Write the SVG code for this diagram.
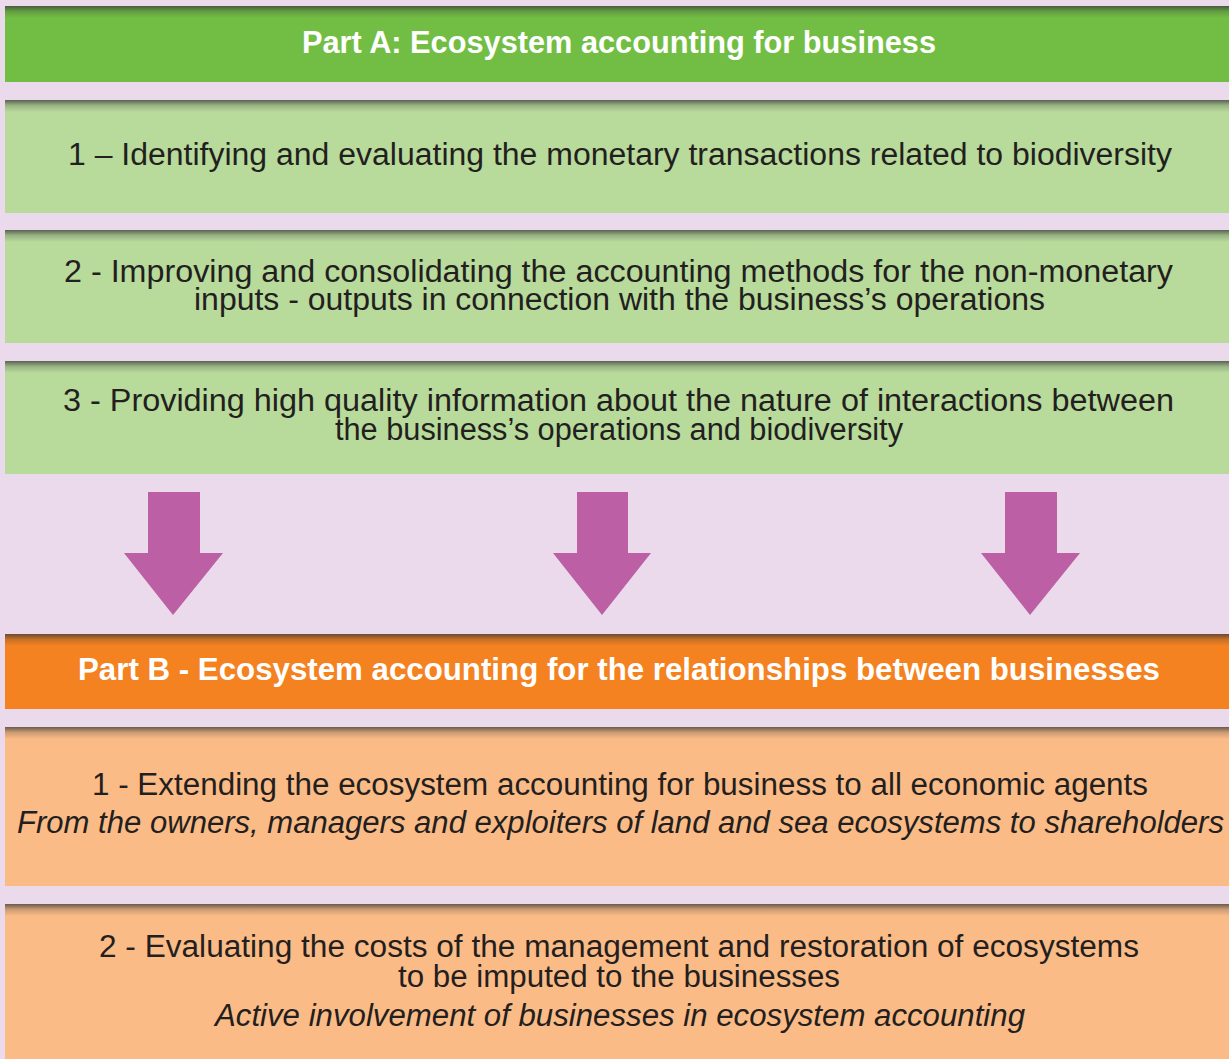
<svg xmlns="http://www.w3.org/2000/svg" width="1229" height="1059" viewBox="0 0 1229 1059">
<defs>
<linearGradient id="shadow" x1="0" y1="0" x2="0" y2="1">
<stop offset="0" stop-color="#3a3a3a" stop-opacity="0.75"/>
<stop offset="0.45" stop-color="#3a3a3a" stop-opacity="0.25"/>
<stop offset="1" stop-color="#3a3a3a" stop-opacity="0"/>
</linearGradient>
<style>
.bg{fill:#EBDAEB}
.hA{fill:#72BE44}
.gA{fill:#B8DA9B}
.hB{fill:#F58220}
.gB{fill:#FBBB86}
.sh{fill:url(#shadow)}
.t{font-family:"Liberation Sans",Arial,sans-serif;font-size:31px;fill:#231F20}
.it{font-style:italic}
.h{font-family:"Liberation Sans",Arial,sans-serif;font-size:31px;font-weight:bold;fill:#FFFFFF}
.arr{fill:#BC5FA4}
</style>
</defs>
<rect class="bg" x="0" y="0" width="1229" height="1059"/>

<g id="partA-header">
<rect class="hA" x="5" y="6" width="1224" height="76"/>
<rect class="sh" x="5" y="6" width="1224" height="12"/>
<text class="h" x="302" y="53" textLength="634" lengthAdjust="spacingAndGlyphs">Part A: Ecosystem accounting for business</text>
</g>

<g id="partA-1">
<rect class="gA" x="5" y="100" width="1224" height="113"/>
<rect class="sh" x="5" y="100" width="1224" height="12"/>
<text class="t" x="68" y="165" textLength="1104" lengthAdjust="spacingAndGlyphs">1 – Identifying and evaluating the monetary transactions related to biodiversity</text>
</g>

<g id="partA-2">
<rect class="gA" x="5" y="230" width="1224" height="113"/>
<rect class="sh" x="5" y="230" width="1224" height="12"/>
<text class="t" x="64" y="282" textLength="1109" lengthAdjust="spacingAndGlyphs">2 - Improving and consolidating the accounting methods for the non-monetary</text>
<text class="t" x="194" y="310" textLength="851" lengthAdjust="spacingAndGlyphs">inputs - outputs in connection with the business’s operations</text>
</g>

<g id="partA-3">
<rect class="gA" x="5" y="361" width="1224" height="113"/>
<rect class="sh" x="5" y="361" width="1224" height="12"/>
<text class="t" x="63" y="411" textLength="1111" lengthAdjust="spacingAndGlyphs">3 - Providing high quality information about the nature of interactions between</text>
<text class="t" x="335" y="440" textLength="568" lengthAdjust="spacingAndGlyphs">the business’s operations and biodiversity</text>
</g>

<g id="connectors">
<polygon class="arr" points="148,492 200,492 200,553 223,553 173,615 124,553 148,553"/>
<polygon class="arr" points="577,492 628,492 628,553 651,553 602,615 553,553 577,553"/>
<polygon class="arr" points="1005,492 1057,492 1057,553 1080,553 1030,615 981,553 1005,553"/>
</g>

<g id="partB-header">
<rect class="hB" x="5" y="634" width="1224" height="75"/>
<rect class="sh" x="5" y="634" width="1224" height="12"/>
<text class="h" x="78" y="680" textLength="1082" lengthAdjust="spacingAndGlyphs">Part B - Ecosystem accounting for the relationships between businesses</text>
</g>

<g id="partB-1">
<rect class="gB" x="5" y="727" width="1224" height="159"/>
<rect class="sh" x="5" y="727" width="1224" height="12"/>
<text class="t" x="92" y="795" textLength="1056" lengthAdjust="spacingAndGlyphs">1 - Extending the ecosystem accounting for business to all economic agents</text>
<text class="t it" x="17" y="833" textLength="1207" lengthAdjust="spacingAndGlyphs">From the owners, managers and exploiters of land and sea ecosystems to shareholders</text>
</g>

<g id="partB-2">
<rect class="gB" x="5" y="904" width="1224" height="155"/>
<rect class="sh" x="5" y="904" width="1224" height="12"/>
<text class="t" x="99" y="957" textLength="1040" lengthAdjust="spacingAndGlyphs">2 - Evaluating the costs of the management and restoration of ecosystems</text>
<text class="t" x="398" y="987" textLength="442" lengthAdjust="spacingAndGlyphs">to be imputed to the businesses</text>
<text class="t it" x="215" y="1026" textLength="810" lengthAdjust="spacingAndGlyphs">Active involvement of businesses in ecosystem accounting</text>
</g>
</svg>
